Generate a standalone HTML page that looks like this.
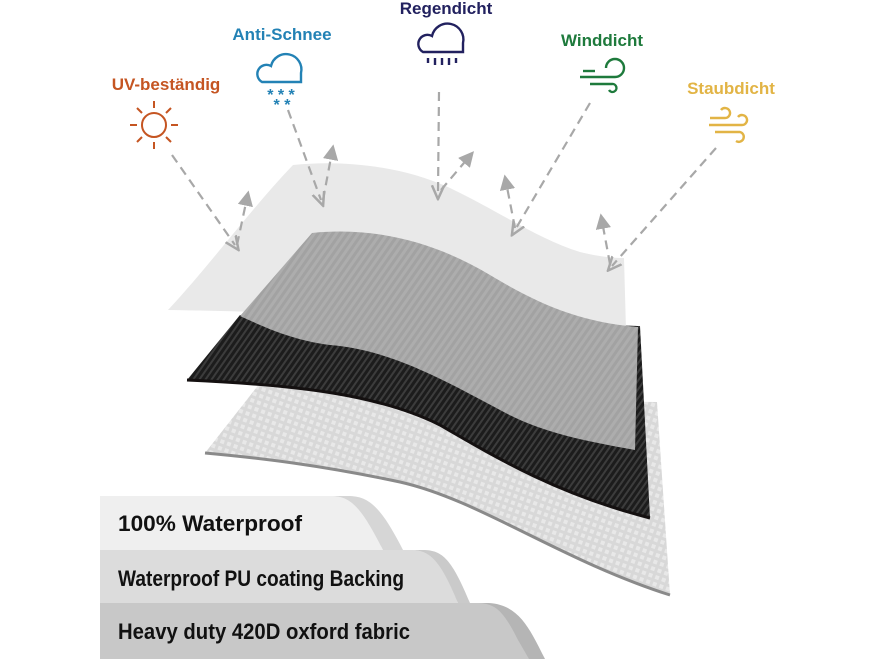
<!DOCTYPE html>
<html><head><meta charset="utf-8"><style>
html,body{margin:0;padding:0;background:#fff;}
svg{display:block;}
</style></head><body>
<svg width="878" height="659" viewBox="0 0 878 659" xmlns="http://www.w3.org/2000/svg" font-family="Liberation Sans, sans-serif">
<defs>
<pattern id="carbon" width="5" height="5" patternUnits="userSpaceOnUse" patternTransform="rotate(35)">
<rect width="5" height="5" fill="#1c1c1c"/><rect width="2" height="5" fill="#3c3c3c"/>
</pattern>
<pattern id="carbonL" width="6" height="6" patternUnits="userSpaceOnUse" patternTransform="rotate(35)">
<rect width="6" height="6" fill="#a2a2a2"/><rect width="3" height="6" fill="#adadad"/>
</pattern>
<pattern id="dots" width="7" height="7" patternUnits="userSpaceOnUse" patternTransform="rotate(20)">
<rect width="7" height="7" fill="#d8d8d8"/><rect x="1" y="1" width="4" height="4" fill="#e8e8e8"/>
</pattern>
<marker id="ah" viewBox="0 0 10 10" refX="5" refY="5" markerWidth="7" markerHeight="7" orient="auto-start-reverse">
<path d="M0,1 L9,5 L0,9" fill="none" stroke="#a8a8a8" stroke-width="1.6"/>
</marker>
<marker id="ahf" viewBox="0 0 10 10" refX="5" refY="5" markerWidth="7" markerHeight="7" orient="auto">
<path d="M0,0 L10,5 L0,10 z" fill="#a8a8a8"/>
</marker>
</defs>

<!-- bottom dotted sheet -->
<path d="M260,383 C400,385 520,400 657,402 L670,595 C560,560 480,500 400,482 C320,465 260,458 205,453 Z" fill="url(#dots)"/>
<path d="M205,453 C260,458 320,465 400,482 C480,500 560,560 670,595" fill="none" stroke="#8a8a8a" stroke-width="3"/>

<!-- black carbon sheet -->
<path d="M240,315 C380,318 500,322 640,326 L650,518 C560,495 500,460 440,425 C380,395 300,385 187,380 Z" fill="url(#carbon)"/>
<path d="M187,380 C300,385 380,395 440,425 C500,460 560,495 650,518" fill="none" stroke="#141010" stroke-width="3"/>

<!-- top white sheet -->
<path d="M293,165 C340,160 400,165 450,188 C500,212 540,240 580,252 C600,257 615,258 624,258 L626,330 C500,320 300,312 168,310 C210,265 250,210 293,165 Z" fill="#e9e9e9"/>

<!-- gray carbon sheet -->
<path d="M312,233 C380,226 440,245 490,275 C540,305 580,322 638,327 L635,450 C580,440 540,432 500,410 C440,378 390,350 330,345 C290,340 260,325 240,316 Z" fill="url(#carbonL)"/>

<!-- dashed arrows -->
<g stroke="#a8a8a8" stroke-width="2.2" fill="none" stroke-dasharray="9,6">
<line x1="172" y1="155" x2="235" y2="245" marker-end="url(#ah)"/>
<line x1="237" y1="245" x2="247" y2="198" marker-end="url(#ahf)"/>
<line x1="288" y1="110" x2="321" y2="200" marker-end="url(#ah)"/>
<line x1="323" y1="200" x2="332" y2="152" marker-end="url(#ahf)"/>
<line x1="439" y1="92" x2="438" y2="193" marker-end="url(#ah)"/>
<line x1="441" y1="190" x2="469" y2="157" marker-end="url(#ahf)"/>
<line x1="590" y1="103" x2="515" y2="230" marker-end="url(#ah)"/>
<line x1="515" y1="228" x2="506" y2="182" marker-end="url(#ahf)"/>
<line x1="716" y1="148" x2="612" y2="266" marker-end="url(#ah)"/>
<line x1="610" y1="264" x2="602" y2="221" marker-end="url(#ahf)"/>
</g>

<!-- labels -->
<g font-weight="bold" font-size="17" text-anchor="middle">
<text x="166" y="90" fill="#c55522">UV-beständig</text>
<text x="282" y="40" fill="#2382b5">Anti-Schnee</text>
<text x="446" y="14" fill="#22215f">Regendicht</text>
<text x="602" y="46" fill="#1e7a3c">Winddicht</text>
<text x="731" y="94" fill="#e2b445">Staubdicht</text>
</g>

<!-- sun -->
<g stroke="#c55522" stroke-width="2" fill="none">
<circle cx="154" cy="125" r="12"/>
<line x1="154" y1="101" x2="154" y2="108"/><line x1="154" y1="142" x2="154" y2="149"/>
<line x1="130" y1="125" x2="137" y2="125"/><line x1="171" y1="125" x2="178" y2="125"/>
<line x1="137" y1="108" x2="142" y2="113"/><line x1="166" y1="137" x2="171" y2="142"/>
<line x1="171" y1="108" x2="166" y2="113"/><line x1="137" y1="142" x2="142" y2="137"/>
</g>
<!-- snow cloud -->
<g stroke="#2382b5" stroke-width="2.4" fill="none">
<path d="M262,82 A9,9 0 0 1 271,66 A15,15 0 0 1 301,73 L301,82 Z"/>
</g>
<text x="281" y="100" font-size="16" font-weight="bold" fill="#2382b5" text-anchor="middle">* * *</text>
<text x="282" y="110" font-size="16" font-weight="bold" fill="#2382b5" text-anchor="middle">* *</text>
<!-- rain cloud -->
<g stroke="#22215f" stroke-width="2.4" fill="none">
<path d="M423,52 A9,9 0 0 1 432,36 A15,15 0 0 1 463,43 L463,52 Z"/>
<line x1="428" y1="58" x2="428" y2="63"/><line x1="435" y1="58" x2="435" y2="65"/>
<line x1="442" y1="58" x2="442" y2="65"/><line x1="449" y1="58" x2="449" y2="65"/><line x1="456" y1="58" x2="456" y2="63"/>
</g>
<!-- wind -->
<g stroke="#1e7a3c" stroke-width="2.4" fill="none">
<line x1="583" y1="71" x2="595" y2="71"/>
<path d="M580,77 L615,77 A9,9 0 1 0 606,68"/>
<path d="M590,84 L612,84 A4,4 0 1 1 609,90"/>
</g>
<!-- dust -->
<g stroke="#e2b445" stroke-width="2.4" fill="none">
<path d="M710,118 L725,118 A5,5 0 1 0 721,110"/>
<path d="M709,125 L742,125 A5,5 0 1 0 738,117"/>
<path d="M715,132 L740,132 A5,5 0 1 1 736,141"/>
</g>

<!-- bottom tabs -->
<path d="M100,603 L476,603 C500,603 505,610 520,640 L531,659 L100,659 Z" fill="#c8c8c8"/>
<path d="M476,603 C495,603 503,610 518,640 L529,659 L545,659 C530,630 520,605 489,603 Z" fill="#b5b5b5"/>
<path d="M100,550 L410,550 C430,550 440,560 458,603 L100,603 Z" fill="#dcdcdc"/>
<path d="M410,550 C430,550 440,560 458,603 L470,603 C452,560 443,550 423,550 Z" fill="#cacaca"/>
<path d="M100,496 L330,496 C350,496 360,505 383,550 L100,550 Z" fill="#efefef"/>
<path d="M330,496 C350,496 360,505 383,550 L403,550 C380,505 368,496 348,496 Z" fill="#d6d6d6"/>
<g font-size="22" font-weight="bold" fill="#111">
<text x="118" y="531" textLength="184" lengthAdjust="spacingAndGlyphs">100% Waterproof</text>
<text x="118" y="586" textLength="286" lengthAdjust="spacingAndGlyphs">Waterproof PU coating Backing</text>
<text x="118" y="639" textLength="292" lengthAdjust="spacingAndGlyphs">Heavy duty 420D oxford fabric</text>
</g>
</svg>
</body></html>
